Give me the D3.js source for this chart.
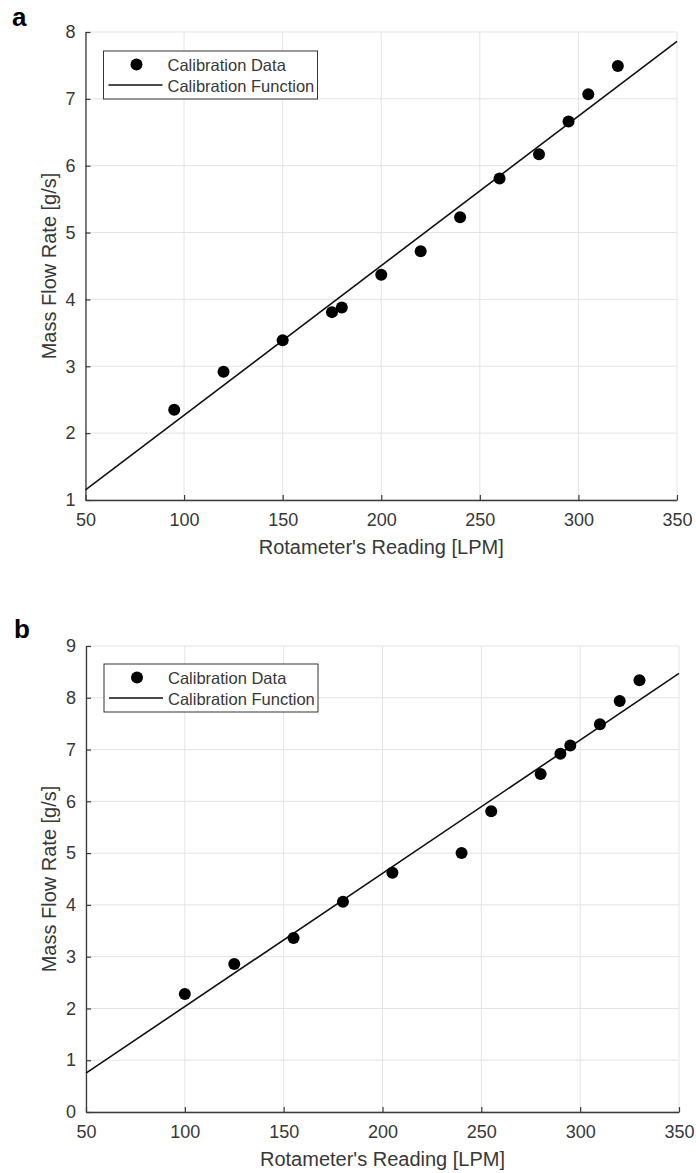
<!DOCTYPE html>
<html>
<head>
<meta charset="utf-8">
<script src="https://cdn.jsdelivr.net/npm/d3@7/dist/d3.min.js"></script>
<style>
  html, body { margin: 0; padding: 0; background: #fff; }
  svg { display: block; font-family: "Liberation Sans", Arial, Helvetica, sans-serif; }
</style>
</head>
<body>
<svg id="chart" width="696" height="1173"></svg>
<script>
// ---- Data ----
const xTicks = [50, 100, 150, 200, 250, 300, 350];

const aYTicks = [1, 2, 3, 4, 5, 6, 7, 8];
const aRotameter = [95, 120, 150, 175, 180, 200, 220, 240, 260, 280, 295, 305, 320];
const aMassFlow = [2.35, 2.92, 3.39, 3.81, 3.88, 4.37, 4.72, 5.23, 5.81, 6.17, 6.66, 7.07, 7.49];
const aFitX = [50, 350];
const aFitY = [1.15, 7.86];

const bYTicks = [0, 1, 2, 3, 4, 5, 6, 7, 8, 9];
const bRotameter = [100, 125, 155, 180, 205, 240, 255, 280, 290, 295, 310, 320, 330];
const bMassFlow = [2.28, 2.86, 3.36, 4.06, 4.62, 5.00, 5.81, 6.53, 6.92, 7.08, 7.49, 7.94, 8.34];
const bFitX = [50, 350];
const bFitY = [0.75, 8.47];

const legendLabels = ["Calibration Data", "Calibration Function"];
const xTitle = "Rotameter's Reading [LPM]";
const yTitle = "Mass Flow Rate [g/s]";

// ---- Drawing ----
const svg = d3.select("#chart");
const axisColor = "#3a3a3a";
const textColor = "#383838";
const gridColor = "#e3e3e3";

function panel(cfg) {
  const { letter, letterPos, box, yDomain, yTicks, xs, ys, fitX, fitY } = cfg;
  const x = d3.scaleLinear().domain([50, 350]).range([box.left, box.right]);
  const y = d3.scaleLinear().domain(yDomain).range([box.bottom, box.top]);
  const g = svg.append("g");

  // grid
  g.append("g").selectAll("line").data(xTicks).join("line")
    .attr("x1", d => x(d)).attr("x2", d => x(d))
    .attr("y1", box.top).attr("y2", box.bottom)
    .attr("stroke", gridColor).attr("stroke-width", 1);
  g.append("g").selectAll("line").data(yTicks).join("line")
    .attr("y1", d => y(d)).attr("y2", d => y(d))
    .attr("x1", box.left).attr("x2", box.right)
    .attr("stroke", gridColor).attr("stroke-width", 1);

  // axes (MATLAB style, inward ticks)
  const xAxis = d3.axisBottom(x).tickValues(xTicks).tickFormat(d3.format("d"))
    .tickSize(-5).tickSizeOuter(0).tickPadding(13);
  const gx = g.append("g").attr("transform", `translate(0,${box.bottom})`).call(xAxis);
  gx.select(".domain").attr("stroke", axisColor).attr("stroke-width", 1.3);
  gx.selectAll(".tick line").attr("stroke", axisColor).attr("stroke-width", 1.2);
  gx.selectAll(".tick text").attr("fill", textColor).attr("font-size", 18)
    .attr("font-family", "Liberation Sans, Arial, sans-serif");

  const yAxis = d3.axisLeft(y).tickValues(yTicks).tickFormat(d3.format("d"))
    .tickSize(-5).tickSizeOuter(0).tickPadding(10);
  const gy = g.append("g").attr("transform", `translate(${box.left},0)`).call(yAxis);
  gy.select(".domain").attr("stroke", axisColor).attr("stroke-width", 1.3);
  gy.selectAll(".tick line").attr("stroke", axisColor).attr("stroke-width", 1.2);
  gy.selectAll(".tick text").attr("fill", textColor).attr("font-size", 18)
    .attr("font-family", "Liberation Sans, Arial, sans-serif");

  // fit line
  const line = d3.line().x(d => x(d[0])).y(d => y(d[1]));
  g.append("path").datum(fitX.map((v, i) => [v, fitY[i]]))
    .attr("d", line).attr("fill", "none").attr("stroke", "#111").attr("stroke-width", 1.6);

  // points
  g.append("g").selectAll("circle").data(xs.map((v, i) => [v, ys[i]])).join("circle")
    .attr("cx", d => x(d[0])).attr("cy", d => y(d[1])).attr("r", 6).attr("fill", "#000");

  // axis titles
  g.append("text").attr("x", (box.left + box.right) / 2).attr("y", box.bottom + 54)
    .attr("text-anchor", "middle").attr("font-size", 20).attr("fill", textColor).text(xTitle);
  g.append("text")
    .attr("transform", `translate(${box.left - 30},${(box.top + box.bottom) / 2}) rotate(-90)`)
    .attr("text-anchor", "middle").attr("font-size", 20).attr("fill", textColor).text(yTitle);

  // legend
  const lx = box.left + 18, ly = box.top + cfg.legendDy;
  const lg = g.append("g").attr("transform", `translate(${lx},${ly})`);
  lg.append("rect").attr("x", 0).attr("y", 0).attr("width", 214).attr("height", 48)
    .attr("fill", "#fff").attr("stroke", "#333").attr("stroke-width", 1);
  lg.append("circle").attr("cx", 33).attr("cy", 13.5).attr("r", 6).attr("fill", "#000");
  lg.append("line").attr("x1", 5).attr("x2", 59).attr("y1", 34).attr("y2", 34)
    .attr("stroke", "#111").attr("stroke-width", 1.6);
  lg.selectAll("text").data(legendLabels).join("text")
    .attr("x", 64).attr("y", (d, i) => i === 0 ? 19.5 : 40.5)
    .attr("font-size", 16.5).attr("fill", textColor).text(d => d);

  // panel letter
  svg.append("text").attr("x", letterPos[0]).attr("y", letterPos[1])
    .attr("font-size", 26).attr("font-weight", "bold").attr("fill", "#000").text(letter);
}

panel({
  letter: "a", letterPos: [12, 26],
  box: { left: 85.5, right: 677, top: 32, bottom: 500 },
  yDomain: [1, 8], yTicks: aYTicks,
  xs: aRotameter, ys: aMassFlow, fitX: aFitX, fitY: aFitY, legendDy: 19
});
panel({
  letter: "b", letterPos: [14, 638],
  box: { left: 86, right: 679, top: 646, bottom: 1112 },
  yDomain: [0, 9], yTicks: bYTicks,
  xs: bRotameter, ys: bMassFlow, fitX: bFitX, fitY: bFitY, legendDy: 18
});
</script>
</body>
</html>
